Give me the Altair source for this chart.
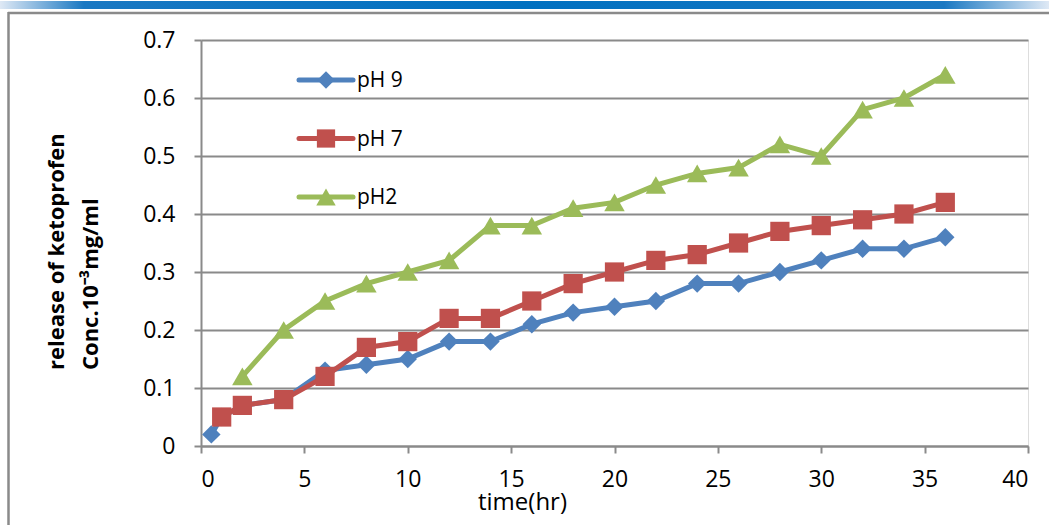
import altair as alt
import pandas as pd

# ---- data ----
time_ph9 = [0.5, 1, 2, 4, 6, 8, 10, 12, 14, 16, 18, 20, 22, 24, 26, 28, 30, 32, 34, 36]
conc_ph9 = [0.02, 0.05, 0.07, 0.08, 0.13, 0.14, 0.15, 0.18, 0.18, 0.21, 0.23, 0.24, 0.25, 0.28, 0.28, 0.30, 0.32, 0.34, 0.34, 0.36]

time_ph7 = [1, 2, 4, 6, 8, 10, 12, 14, 16, 18, 20, 22, 24, 26, 28, 30, 32, 34, 36]
conc_ph7 = [0.05, 0.07, 0.08, 0.12, 0.17, 0.18, 0.22, 0.22, 0.25, 0.28, 0.30, 0.32, 0.33, 0.35, 0.37, 0.38, 0.39, 0.40, 0.42]

time_ph2 = [2, 4, 6, 8, 10, 12, 14, 16, 18, 20, 22, 24, 26, 28, 30, 32, 34, 36]
conc_ph2 = [0.12, 0.20, 0.25, 0.28, 0.30, 0.32, 0.38, 0.38, 0.41, 0.42, 0.45, 0.47, 0.48, 0.52, 0.50, 0.58, 0.60, 0.64]

series_names = ["pH 9", "pH 7", "pH2"]
series_colors = ["#4F81BD", "#C0504D", "#9BBB59"]
series_shapes = ["diamond", "square", "triangle-up"]
series_sizes = [340, 370, 420]

x_ticks = [0, 5, 10, 15, 20, 25, 30, 35, 40]
y_ticks = [0, 0.1, 0.2, 0.3, 0.4, 0.5, 0.6, 0.7]

y_title_lines = ["release of ketoprofen", "Conc.10\u207b\u00b3mg/ml"]
x_title = "time(hr)"

FONT = "Open Sans"
W, H = 827, 406
PL, PT = 201, 40
GRAY = "#8a8a8a"

frames = [
    pd.DataFrame({"time": time_ph9, "conc": conc_ph9, "series": "pH 9"}),
    pd.DataFrame({"time": time_ph7, "conc": conc_ph7, "series": "pH 7"}),
    pd.DataFrame({"time": time_ph2, "conc": conc_ph2, "series": "pH2"}),
]

xscale = alt.Scale(domain=[0, 40], nice=False)
yscale = alt.Scale(domain=[0, 0.7], nice=False)

layers = []

# decorations: blue bar on top, gray frame
deco = pd.DataFrame({"k": [0]})
bar = alt.Chart(deco).mark_rect(
    color=alt.Gradient(
        gradient="linear",
        stops=[
            alt.GradientStop(color="#dfe9f5", offset=0),
            alt.GradientStop(color="#1a78c2", offset=0.08),
            alt.GradientStop(color="#0070c0", offset=0.5),
            alt.GradientStop(color="#1a78c2", offset=0.9),
            alt.GradientStop(color="#dfe9f5", offset=1),
        ],
        x1=0, x2=1, y1=0, y2=0,
    )
).encode(x=alt.value(-PL), x2=alt.value(1049 - PL), y=alt.value(1 - PT), y2=alt.value(9 - PT))
frame_top = alt.Chart(deco).mark_rule(color=GRAY, strokeWidth=2.5).encode(
    x=alt.value(8 - PL), x2=alt.value(1049 - PL), y=alt.value(13 - PT))
frame_left = alt.Chart(deco).mark_rule(color=GRAY, strokeWidth=2.5).encode(
    x=alt.value(8.5 - PL), y=alt.value(12 - PT), y2=alt.value(525 - PT))
layers += [bar, frame_top, frame_left]

for df, name, col, shp, sz in zip(frames, series_names, series_colors, series_shapes, series_sizes):
    base = alt.Chart(df)
    line = base.mark_line(color=col, strokeWidth=5, clip=False).encode(
        x=alt.X("time:Q", scale=xscale,
                axis=alt.Axis(values=x_ticks, title=x_title, grid=False,
                              labelFont=FONT, labelFontSize=23, labelColor="#000",
                              labelPadding=15, tickSize=7, tickColor=GRAY,
                              tickWidth=2, domainColor=GRAY, domainWidth=2,
                              titleFont=FONT, titleFontSize=24, titleFontWeight="normal",
                              titleColor="#000", titleX=321, titleY=56,
                              titleBaseline="middle", titleAlign="center")),
        y=alt.Y("conc:Q", scale=yscale,
                axis=alt.Axis(values=y_ticks, title=None, grid=True, format=".1~f",
                              gridColor=GRAY, gridWidth=2,
                              labelFont=FONT, labelFontSize=23, labelColor="#000",
                              labelPadding=19, tickSize=7, tickColor=GRAY,
                              tickWidth=2, domainColor=GRAY, domainWidth=2)),
    )
    pts = base.mark_point(shape=shp, size=sz, filled=True, opacity=1, color=col, clip=False).encode(
        x=alt.X("time:Q", scale=xscale), y=alt.Y("conc:Q", scale=yscale))
    layers += [line, pts]

# manual legend (line + marker + label), placed in pixels
for i, (name, col, shp, sz) in enumerate(zip(series_names, series_colors, series_shapes, series_sizes)):
    ly = 40 + i * 58.5
    ldf = pd.DataFrame({"label": [name]})
    lc = alt.Chart(ldf)
    layers.append(lc.mark_rule(color=col, strokeWidth=5, strokeCap="round").encode(
        x=alt.value(98), x2=alt.value(152), y=alt.value(ly)))
    layers.append(lc.mark_point(shape=shp, size=sz * 0.9, filled=True, opacity=1, color=col).encode(
        x=alt.value(125), y=alt.value(ly)))
    layers.append(lc.mark_text(align="left", baseline="middle", font=FONT, fontSize=21, color="#000").encode(
        x=alt.value(156), y=alt.value(ly + 1), text="label:N"))

# two-line rotated y-axis title
tdf = pd.DataFrame({"t": y_title_lines, "px": [57 - PL, 91 - PL]})
ytitle = alt.Chart(tdf).mark_text(angle=270, align="left", baseline="middle", font=FONT,
                                  fontSize=22, fontWeight="bold", color="#000").encode(
    x=alt.X("px:Q", scale=None), y=alt.value(370 - PT), text="t:N")
layers.append(ytitle)

chart = alt.layer(*layers).properties(
    width=W, height=H,
    autosize=alt.AutoSizeParams(type="none"),
    padding={"left": PL, "top": PT, "right": 1049 - PL - W, "bottom": 525 - PT - H},
).configure_view(stroke=None).configure(background="white")

chart.save("out.html", embed_options={"renderer": "svg", "actions": False})
